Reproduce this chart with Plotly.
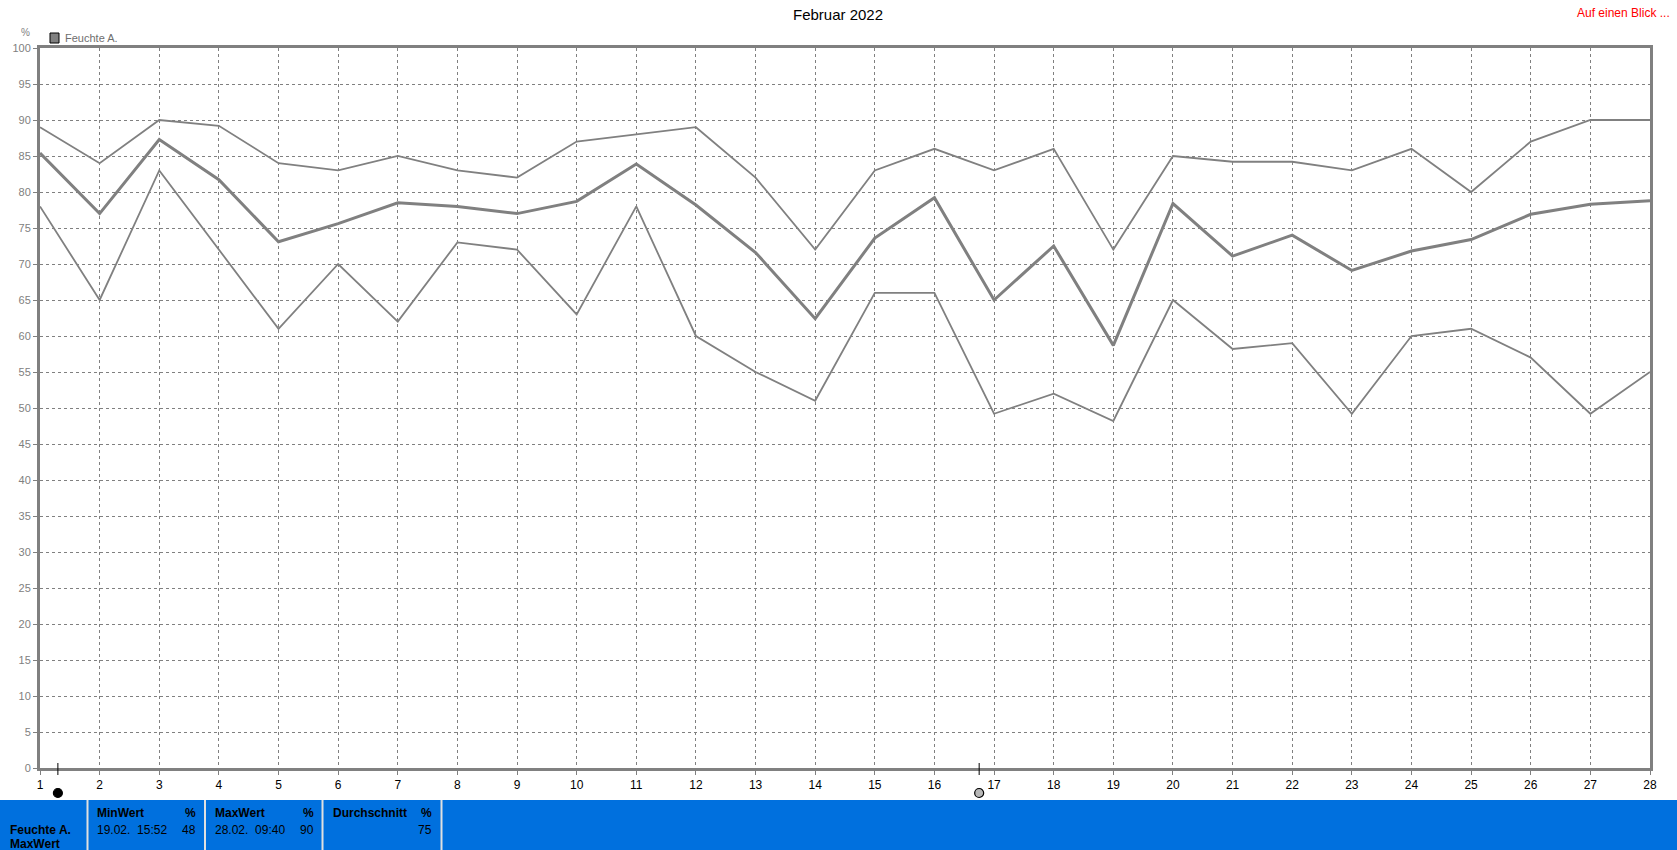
import plotly.graph_objects as go

# ---------------- data ----------------
days = list(range(1, 29))
feuchte_max = [89, 84, 90, 89.2, 84, 83, 85, 83, 82, 87, 88, 89, 82, 72, 83, 86, 83, 86, 72,
               85, 84.2, 84.2, 83, 86, 80, 87, 90, 90]
feuchte_avg = [85.4, 77, 87.3, 81.7, 73.1, 75.6, 78.5, 78, 77, 78.7, 83.9, 78.2, 71.6, 62.4,
               73.6, 79.2, 65, 72.5, 58.7, 78.4, 71.1, 74, 69.1, 71.8, 73.4, 76.9, 78.3, 78.8]
feuchte_min = [78, 65, 83, 72, 61, 70, 62, 73, 72, 63, 78, 60, 55, 51, 66, 66, 49.2, 52, 48.2,
               65, 58.2, 59, 49.2, 60, 61, 57, 49.2, 55]
y_ticks = list(range(0, 101, 5))
cursor_days = [1.3, 16.75]

title_text = "Februar 2022"
series_name = "Feuchte A."
stats_headers = ["MinWert", "MaxWert", "Durchschnitt"]
stats_time = ["19.02.  15:52", "28.02.  09:40", ""]
stats_values = ["48", "90", "75"]

# ---------------- geometry helpers ----------------
W, H = 1677, 850
L, R, T, B = 40, 1650, 48, 768
FONT = "Liberation Sans, Arial, sans-serif"
GRAY = "#808080"


def px(x):
    return (x - L) / (R - L)


def py(y):
    return (B - y) / (B - T)


day_px = (R - L) / (days[-1] - days[0])

fig = go.Figure()
for vals, w in [(feuchte_max, 1.8), (feuchte_min, 1.8), (feuchte_avg, 3)]:
    fig.add_trace(go.Scatter(x=days, y=vals, mode="lines", line=dict(color=GRAY, width=w),
                             showlegend=False, name=series_name, hoverinfo="x+y"))

shapes = []
annotations = []

# bottom blue panel
shapes.append(dict(type="rect", xref="paper", yref="paper", x0=px(-2), x1=px(W + 2),
                   y0=py(800), y1=py(H + 2), fillcolor="#0070DE", line=dict(width=0),
                   layer="above"))
for sx in [87.5, 205, 322.5, 441.5]:
    shapes.append(dict(type="line", xref="paper", yref="paper", x0=px(sx), x1=px(sx),
                       y0=py(800), y1=py(H + 2), line=dict(color="#E0E0E0", width=2)))

# legend box
shapes.append(dict(type="rect", xref="paper", yref="paper", x0=px(50), x1=px(59),
                   y0=py(43), y1=py(33), fillcolor=GRAY, line=dict(color="black", width=1)))
annotations.append(dict(text=series_name, x=px(63), y=py(38.5), xref="paper", yref="paper",
                        xanchor="left", yanchor="middle", showarrow=False,
                        font=dict(family=FONT, size=11, color="#6E6E6E")))
annotations.append(dict(text="%", x=px(25), y=py(32), xref="paper", yref="paper",
                        xanchor="center", yanchor="middle", showarrow=False,
                        font=dict(family=FONT, size=10, color=GRAY)))
annotations.append(dict(text="Auf einen Blick ...", x=px(1672), y=py(12.5), xref="paper",
                        yref="paper", xanchor="right", yanchor="middle", showarrow=False,
                        font=dict(family=FONT, size=12, color="#FF0000")))

# cursor markers
for i, d in enumerate(cursor_days):
    shapes.append(dict(type="line", xref="x", yref="paper", x0=d, x1=d, y0=py(763), y1=py(775),
                       line=dict(color="black", width=1)))
    r = 4.5 / day_px
    shapes.append(dict(type="circle", xref="x", yref="paper", x0=d - r, x1=d + r,
                       y0=py(797.5), y1=py(788.5),
                       fillcolor="black" if i == 0 else "#B8B8B8",
                       line=dict(color="black", width=1.2)))

# panel text
annotations.append(dict(text="<b>" + series_name + "</b>", x=px(8), y=py(830), xref="paper",
                        yref="paper", xanchor="left", yanchor="middle", showarrow=False,
                        font=dict(family=FONT, size=12, color="black")))
annotations.append(dict(text="<b>MaxWert</b>", x=px(8), y=py(844), xref="paper",
                        yref="paper", xanchor="left", yanchor="middle", showarrow=False,
                        font=dict(family=FONT, size=12, color="black")))
col_left = [95, 212.5, 330.5]
col_right = [198, 316, 434]
for h, t, v, xl, xr in zip(stats_headers, stats_time, stats_values, col_left, col_right):
    annotations.append(dict(text="<b>" + h + "</b>", x=px(xl), y=py(813), xref="paper",
                            yref="paper", xanchor="left", yanchor="middle", showarrow=False,
                            font=dict(family=FONT, size=12, color="black")))
    annotations.append(dict(text="<b>%</b>", x=px(xr), y=py(813), xref="paper",
                            yref="paper", xanchor="right", yanchor="middle", showarrow=False,
                            font=dict(family=FONT, size=12, color="black")))
    if t:
        annotations.append(dict(text=t.replace("  ", "&nbsp;&nbsp;"), x=px(xl), y=py(830),
                                xref="paper", yref="paper", xanchor="left", yanchor="middle",
                                showarrow=False, font=dict(family=FONT, size=12, color="black")))
    annotations.append(dict(text=v, x=px(xr), y=py(830), xref="paper",
                            yref="paper", xanchor="right", yanchor="middle", showarrow=False,
                            font=dict(family=FONT, size=12, color="black")))

axis_common = dict(showgrid=True, gridcolor=GRAY, gridwidth=1, griddash="3px,3px",
                   showline=True, linecolor=GRAY, linewidth=3, mirror=True,
                   ticks="outside", ticklen=4, tickcolor=GRAY, tickwidth=1, zeroline=False)

fig.update_layout(
    width=W, height=H, autosize=False,
    margin=dict(l=L, r=W - R, t=T, b=H - B, pad=0),
    paper_bgcolor="white", plot_bgcolor="white",
    title=dict(text=title_text, x=838 / W, xanchor="center",
               y=1 - 15 / H, yanchor="middle",
               font=dict(family=FONT, size=15, color="black")),
    xaxis=dict(range=[days[0], days[-1]], tickvals=days, ticktext=[str(d) for d in days],
               tickfont=dict(family=FONT, size=12, color="black"), **axis_common),
    yaxis=dict(range=[0, 100], tickvals=y_ticks,
               tickfont=dict(family=FONT, size=11, color=GRAY), **axis_common),
    shapes=shapes, annotations=annotations, showlegend=False,
)

fig.write_html("out.html",
               config={"displayModeBar": False},
               post_script="document.body.style.margin='0px';"
                           "document.body.style.overflow='hidden';")
